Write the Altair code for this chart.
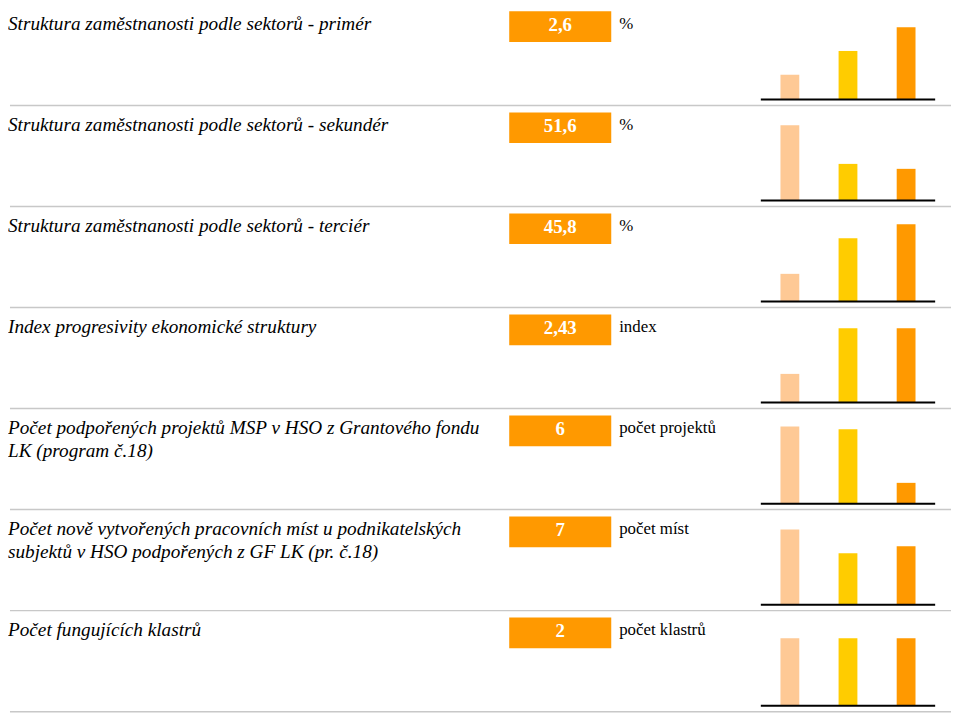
import altair as alt
import pandas as pd

labels = [
    "Struktura zaměstnanosti podle sektorů - primér",
    "Struktura zaměstnanosti podle sektorů - sekundér",
    "Struktura zaměstnanosti podle sektorů - terciér",
    "Index progresivity ekonomické struktury",
    "Počet podpořených projektů MSP v HSO z Grantového fondu\nLK (program č.18)",
    "Počet nově vytvořených pracovních míst u podnikatelských\nsubjektů v HSO podpořených z GF LK (pr. č.18)",
    "Počet fungujících klastrů",
]
values = ["2,6", "51,6", "45,8", "2,43", "6", "7", "2"]
units = ["%", "%", "%", "index", "počet projektů", "počet míst", "počet klastrů"]
bar_names = ["A", "B", "C"]
bar_colors = ["#FEC995", "#FFCC00", "#FF9900"]
bar_a = [25, 76, 28, 29, 78, 76, 68]
bar_b = [49, 37, 64, 75, 75, 52, 68]
bar_c = [73, 32, 78, 75, 21, 59, 68]

rows = []
for i in range(len(labels)):
    for name, series in zip(bar_names, [bar_a, bar_b, bar_c]):
        rows.append({
            "row": i,
            "label": labels[i],
            "value": values[i],
            "unit": units[i],
            "bar": name,
            "h": series[i],
        })
df = pd.DataFrame(rows)

SERIF = "Times New Roman, serif"
first = alt.datum.bar == "A"
H = 87

sep = alt.Chart().mark_rule(color="#C8C8C8", strokeWidth=1.5).encode(
    x=alt.value(0), x2=alt.value(950), y=alt.value(H + 6)
).transform_filter(first)

label = alt.Chart().mark_text(
    align="left", baseline="alphabetic", font=SERIF,
    fontStyle="italic", fontSize=19.4, color="black", lineBreak="\n", lineHeight=23,
).encode(x=alt.value(-2), y=alt.value(17), text="label:N").transform_filter(first)

box = alt.Chart().mark_rect(color="#FF9900").encode(
    x=alt.value(504), x2=alt.value(607), y=alt.value(-2), y2=alt.value(29)
).transform_filter(first)

val = alt.Chart().mark_text(
    align="center", baseline="alphabetic", font=SERIF,
    fontWeight="bold", fontSize=19, color="white",
).encode(x=alt.value(555.5), y=alt.value(18), text="value:N").transform_filter(first)

unit = alt.Chart().mark_text(
    align="left", baseline="alphabetic", font=SERIF,
    fontSize=17, color="black",
).encode(x=alt.value(615), y=alt.value(16), text="unit:N").transform_filter(first)

bars = alt.Chart().mark_bar(size=19).encode(
    x=alt.X("bar:N", axis=None,
            scale=alt.Scale(range=[758, 934], paddingInner=0, paddingOuter=0)),
    y=alt.Y("h:Q", axis=None, scale=alt.Scale(domain=[0, H])),
    color=alt.Color("bar:N", legend=None,
                    scale=alt.Scale(domain=bar_names, range=bar_colors)),
)

base = alt.Chart().mark_rule(color="black", strokeWidth=2).encode(
    x=alt.value(758), x2=alt.value(934), y=alt.value(H)
).transform_filter(first)

layer = alt.layer(sep, label, box, val, unit, bars, base, data=df).properties(
    width=950, height=H
)

chart = layer.facet(
    row=alt.Row("row:O", header=alt.Header(labels=False, labelPadding=0, titlePadding=0), title=None),
    spacing=15,
    bounds="flush",
).properties(
    padding={"left": 0, "top": 0, "right": 0, "bottom": 0},
).configure_view(stroke=None)

chart.save("out.html", embed_options={"renderer": "svg", "actions": False})
